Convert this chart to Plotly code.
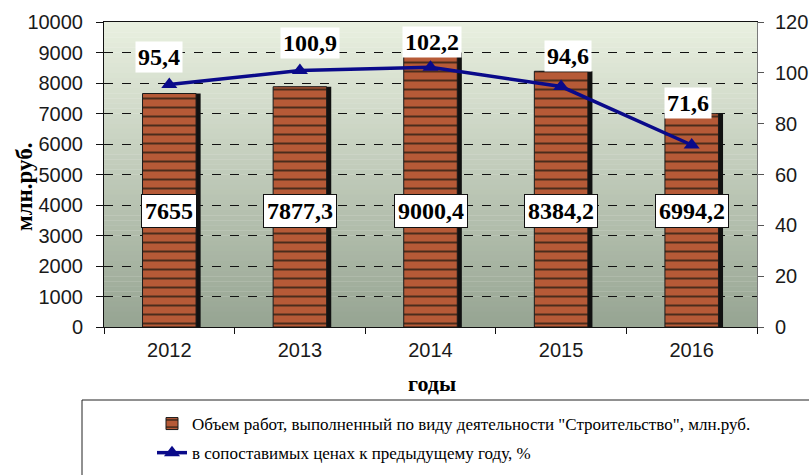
import plotly.graph_objects as go

# ---- data ----
years = ["2012", "2013", "2014", "2015", "2016"]
volume = [7655, 7877.3, 9000.4, 8384.2, 6994.2]
index_pct = [95.4, 100.9, 102.2, 94.6, 71.6]
volume_labels = ["7655", "7877,3", "9000,4", "8384,2", "6994,2"]
index_labels = ["95,4", "100,9", "102,2", "94,6", "71,6"]
left_ticks = [0, 1000, 2000, 3000, 4000, 5000, 6000, 7000, 8000, 9000, 10000]
right_ticks = [0, 20, 40, 60, 80, 100, 120]
bar_name = 'Объем работ, выполненный по виду деятельности "Строительство", млн.руб.'
line_name = 'в сопоставимых ценах к предыдущему году, %'
y_title = "млн.руб."
x_title = "годы"

# ---- style ----
label_xshift = [-10, 10, 1, 7, -4]
label_yshift = [28, 28, 25, 31, 42]
bar_label_level = 3800
W, H = 809, 475
ML, MR, MT, MB = 104, 52, 22, 148
PW, PH = W - ML - MR, H - MT - MB
serif = "Liberation Serif, Times New Roman, serif"
sans = "Liberation Sans, Arial, sans-serif"

def px_x(px):
    return (px - ML) / PW

def px_y(py):
    return (H - MB - py) / PH

fig = go.Figure()

bw = 0.41
fig.add_trace(go.Bar(
    x=years, y=volume, width=bw, offset=-bw / 2 + 0.035,
    marker=dict(color="#111111", line=dict(width=0)),
    showlegend=False, hoverinfo="skip"))
fig.add_trace(go.Bar(
    x=years, y=volume, width=bw, offset=-bw / 2, name=bar_name,
    legendgroup="a",
    marker=dict(color="#b65a37", line=dict(color="#1a1a1a", width=1),
                pattern=dict(shape="-", fgcolor="#4a2c1c", bgcolor="#b65a37",
                             size=9, solidity=0.22, fillmode="replace"))))
fig.add_trace(go.Scatter(
    x=years, y=index_pct, yaxis="y2", mode="lines+markers", name=line_name,
    legendgroup="b",
    line=dict(color="#0a0a8a", width=3.5),
    marker=dict(symbol="triangle-up", size=14, color="#0a0a8a")))

# gradient background of the plot area
shapes = []
n = 60
top = (233, 240, 224)
bot = (150, 164, 146)
for i in range(n):
    t = (i + 0.5) / n
    c = tuple(round(top[k] + (bot[k] - top[k]) * t) for k in range(3))
    shapes.append(dict(type="rect", xref="paper", yref="paper", layer="below",
                       x0=0, x1=1, y0=1 - (i + 1) / n - 0.001, y1=1 - i / n,
                       line=dict(width=0), fillcolor="rgb(%d,%d,%d)" % c))
# legend frame
shapes.append(dict(type="rect", xref="paper", yref="paper",
                   x0=px_x(82), x1=px_x(812), y0=px_y(478), y1=px_y(400),
                   line=dict(color="#222222", width=1), fillcolor="rgba(0,0,0,0)"))

annotations = []
for i, lab in enumerate(volume_labels):
    annotations.append(dict(x=i, y=bar_label_level, xref="x", yref="y", text="<b>%s</b>" % lab,
                            showarrow=False, bgcolor="white", bordercolor="#111111",
                            borderwidth=1, borderpad=3, xanchor="center", yanchor="middle",
                            font=dict(family=serif, size=24, color="black")))
for i, (v, lab, dx, dy) in enumerate(zip(index_pct, index_labels, label_xshift, label_yshift)):
    annotations.append(dict(x=i, y=v, xref="x", yref="y2", text="<b>%s</b>" % lab,
                            showarrow=False, bgcolor="white", borderpad=2,
                            xanchor="center", yanchor="middle",
                            xshift=dx, yshift=dy,
                            font=dict(family=serif, size=24, color="black")))
annotations.append(dict(x=px_x(25), y=px_y(187), xref="paper", yref="paper",
                        xanchor="center", yanchor="middle",
                        text="<b>%s</b>" % y_title, textangle=-90, showarrow=False,
                        font=dict(family=serif, size=23, color="black")))
annotations.append(dict(x=px_x(432), y=px_y(383), xref="paper", yref="paper",
                        xanchor="center", yanchor="middle",
                        text="<b>%s</b>" % x_title, showarrow=False,
                        font=dict(family=serif, size=22, color="black")))

fig.update_layout(
    width=W, height=H, margin=dict(l=ML, r=MR, t=MT, b=MB, autoexpand=False),
    paper_bgcolor="white", plot_bgcolor="rgba(0,0,0,0)",
    barmode="overlay", shapes=shapes, annotations=annotations,
    xaxis=dict(type="category", range=[-0.5, 4.5], showline=True, linecolor="#111111",
               linewidth=1, mirror=True, ticks="outside", tickson="boundaries",
               ticklen=6, tickcolor="#111111", showgrid=False, automargin=False,
               tickfont=dict(family=sans, size=20, color="#1a1a1a"),
               ticklabelstandoff=5),
    yaxis=dict(range=[0, 10000], tickvals=left_ticks, ticktext=[str(v) for v in left_ticks],
               showline=True, linecolor="#111111", automargin=False,
               linewidth=1, ticks="outside", ticklen=7, tickcolor="#111111",
               showgrid=True, gridcolor="#111111", griddash="dash", gridwidth=1,
               zeroline=False, ticklabelstandoff=9,
               tickfont=dict(family=sans, size=20, color="#1a1a1a")),
    yaxis2=dict(range=[0, 120], tickvals=right_ticks, ticktext=[str(v) for v in right_ticks],
                overlaying="y", side="right", automargin=False,
                showline=True, linecolor="#7a7a7a", linewidth=1, ticks="outside",
                ticklen=6, tickcolor="#555555", showgrid=False, zeroline=False,
                ticklabelstandoff=7,
                tickfont=dict(family=sans, size=20, color="#1a1a1a")),
    legend=dict(xref="container", yref="container", x=152 / W, y=1 - 406 / H,
                xanchor="left", yanchor="top",
                traceorder="grouped", tracegroupgap=4, bgcolor="rgba(0,0,0,0)",
                font=dict(family=serif, size=17, color="black")),
)

fig.write_html("out.html", config={"displayModeBar": False},
               post_script="document.body.style.margin='0';document.body.style.overflow='hidden';")
